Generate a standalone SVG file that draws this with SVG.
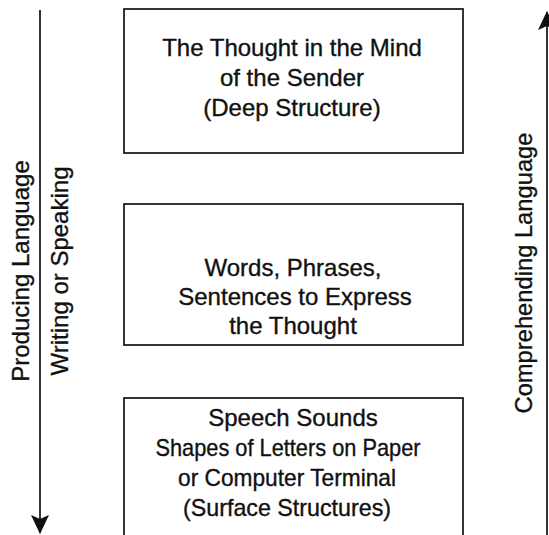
<svg xmlns="http://www.w3.org/2000/svg" width="549" height="535" viewBox="0 0 549 535">
<style>
  .box { fill: #fff; stroke: #111; stroke-width: 1.7; }
  .t { font-family: "Liberation Sans", Arial, sans-serif; font-size: 24px; fill: #111; stroke: #111; stroke-width: 0.35; text-anchor: middle; }
  .conn { stroke: #111; stroke-width: 1.7; fill: none; }
</style>
<defs>
  <marker id="ah" viewBox="0 0 19 18" refX="18" refY="9" markerWidth="19" markerHeight="18" markerUnits="userSpaceOnUse" orient="auto">
    <path d="M0,0 L19,9 L0,18 L4,9 Z" fill="#111"/>
  </marker>
</defs>
<rect width="549" height="535" fill="#fff"/>
<g id="connectors">
  <line class="conn" x1="40" y1="10" x2="40" y2="533" marker-end="url(#ah)"/>
  <line class="conn" x1="547" y1="535" x2="547" y2="12" marker-end="url(#ah)"/>
</g>
<g id="label-producing">
  <text class="t" transform="translate(29,271) rotate(-90)">Producing Language</text>
</g>
<g id="label-writing">
  <text class="t" transform="translate(68,271) rotate(-90)">Writing or Speaking</text>
</g>
<g id="label-comprehending">
  <text class="t" transform="translate(532,273) rotate(-90)" textLength="281" lengthAdjust="spacingAndGlyphs">Comprehending Language</text>
</g>
<g id="node-deep">
  <rect class="box" x="124" y="9" width="339" height="144"/>
  <text class="t" x="292" y="56">The Thought in the Mind</text>
  <text class="t" x="292" y="86">of the Sender</text>
  <text class="t" x="292" y="116">(Deep Structure)</text>
</g>
<g id="node-words">
  <rect class="box" x="124" y="204" width="339" height="141"/>
  <text class="t" x="293" y="276">Words, Phrases,</text>
  <text class="t" x="295" y="305">Sentences to Express</text>
  <text class="t" x="293" y="334">the Thought</text>
</g>
<g id="node-surface">
  <rect class="box" x="124" y="398" width="339" height="150"/>
  <text class="t" x="293" y="426">Speech Sounds</text>
  <text class="t" x="288" y="456" textLength="265" lengthAdjust="spacingAndGlyphs">Shapes of Letters on Paper</text>
  <text class="t" x="287" y="486" textLength="218" lengthAdjust="spacingAndGlyphs">or Computer Terminal</text>
  <text class="t" x="287" y="516" textLength="208" lengthAdjust="spacingAndGlyphs">(Surface Structures)</text>
</g>
</svg>
